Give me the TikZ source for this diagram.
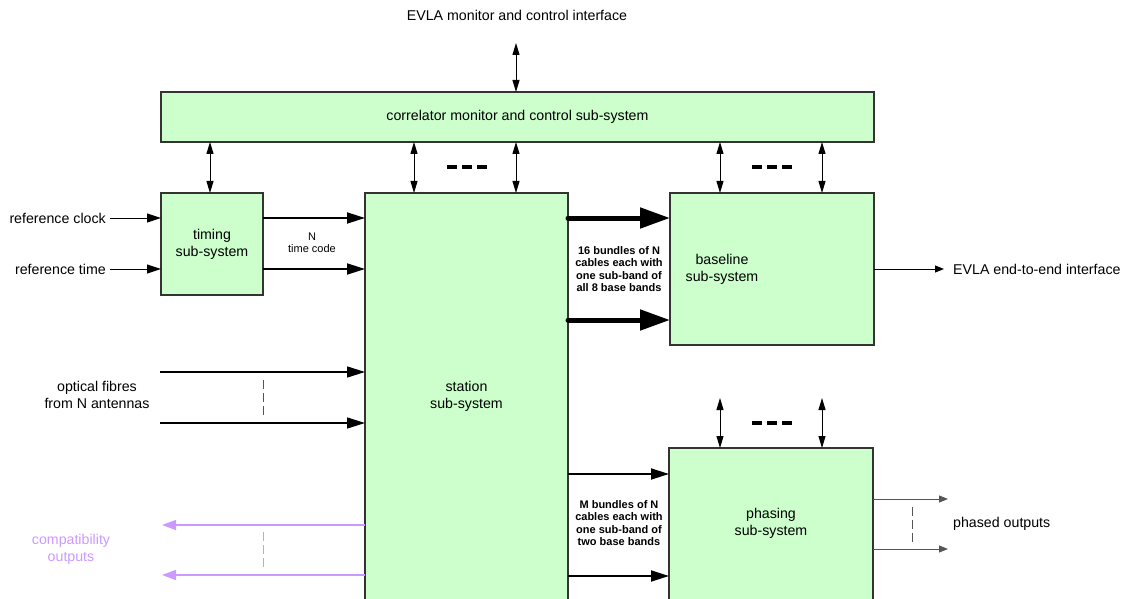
\documentclass[tikz,border=0pt]{standalone}
\usepackage{fontspec}
\setmainfont{Liberation Sans}
\usetikzlibrary{arrows.meta}
\definecolor{boxfill}{HTML}{CCFFCC}
\definecolor{boxline}{HTML}{333333}
\definecolor{compat}{HTML}{CC99FF}
\definecolor{greyline}{HTML}{555555}
\begin{document}
\begin{tikzpicture}[x=1pt,y=-1pt,
  box/.style={draw=boxline, fill=boxfill, line width=1.1pt, inner sep=0pt, outer sep=0pt},
  lbl/.style={font=\fontsize{14.2}{17}\selectfont, align=center, inner sep=0pt},
  small/.style={font=\fontsize{11}{12.5}\selectfont, align=center, inner sep=0pt},
  smallbold/.style={font=\bfseries\fontsize{11}{12.4}\selectfont, align=center, inner sep=0pt},
  dbl/.style={line width=1pt, {Triangle[length=12pt,width=7pt]}-{Triangle[length=12pt,width=7pt]}},
  inarr/.style={line width=1pt, -{Triangle[length=14pt,width=9pt]}},
  medarr/.style={line width=1.8pt, -{Triangle[length=18pt,width=11pt]}},
  bigarr/.style={line width=5pt, line cap=round, -{Triangle[length=30pt,width=20pt]}},
  comparr/.style={draw=compat, line width=1.5pt, -{Triangle[length=14pt,width=10pt]}, fill=compat},
  outarr/.style={line width=1pt, -{Triangle[length=9pt,width=7pt]}},
  dashbar/.style={line width=3.2pt, dash pattern=on 10pt off 5pt},
  vdash/.style={line width=1pt, dash pattern=on 9pt off 4pt}
]
\useasboundingbox (0,0) rectangle (1125,599);

% boxes
\node[box, lbl, minimum width=713pt, minimum height=50pt] (corr) at (517.5,117) {correlator monitor and control sub-system};
\node[box, lbl, minimum width=102pt, minimum height=102pt] (timing) at (212,244) {timing\\sub-system};
\node[box, minimum width=203pt, minimum height=450pt, anchor=north] (station) at (466.5,193) {};
\node[lbl] (stationtxt) at (466.5,396) {station\\sub-system};
\node[box, minimum width=204pt, minimum height=152pt] (base) at (772,269) {};
\node[lbl] (basetxt) at (722,269) {baseline\\sub-system};
\node[box, minimum width=204pt, minimum height=200pt, anchor=north] (phas) at (771,448) {};
\node[lbl] (phastxt) at (771,523) {phasing\\sub-system};

% top interface
\node[lbl] (evla) at (517,15) {EVLA monitor and control interface};
\coordinate (mctop) at (516,43);
\draw[dbl] (mctop) -- (mctop |- corr.north);

% monitor and control links
\coordinate (t1) at ([xshift=-2pt]timing.north);
\draw[dbl] (t1 |- corr.south) -- (t1);
\coordinate (s1) at ([xshift=49pt]station.north west);
\coordinate (s2) at ([xshift=-52pt]station.north east);
\draw[dbl] (s1 |- corr.south) -- (s1);
\draw[dbl] (s2 |- corr.south) -- (s2);
\coordinate (b1) at ([xshift=50pt]base.north west);
\coordinate (b2) at ([xshift=-52pt]base.north east);
\draw[dbl] (b1 |- corr.south) -- (b1);
\draw[dbl] (b2 |- corr.south) -- (b2);
\coordinate (ptop) at (0,398);
\coordinate (p1) at ([xshift=51pt]phas.north west);
\coordinate (p2) at ([xshift=-51pt]phas.north east);
\draw[dbl] (p1 |- ptop) -- (p1);
\draw[dbl] (p2 |- ptop) -- (p2);
\draw[dashbar] (447,167) -- (487,167);
\draw[dashbar] (752,167) -- (792,167);
\draw[dashbar] (752,423) -- (792,423);

% timing inputs and outputs
\node[lbl, anchor=east] (refclk) at (106,218) {reference clock};
\node[lbl, anchor=east] (reftime) at (106,269) {reference time};
\draw[inarr, shorten <=4pt] (refclk.east) -- (refclk.east -| timing.west);
\draw[inarr, shorten <=4pt] (reftime.east) -- (reftime.east -| timing.west);
\coordinate (y218) at (0,218);
\coordinate (y269) at (0,269);
\draw[medarr] (timing.east |- y218) -- (station.west |- y218);
\draw[medarr] (timing.east |- y269) -- (station.west |- y269);
\node[small] (tc) at (312,243) {N\\time code};

% station -> baseline
\coordinate (y320) at (0,320);
\draw[bigarr] (station.east |- y218) -- (base.west |- y218);
\draw[bigarr] (station.east |- y320) -- (base.west |- y320);
\node[smallbold] (bl16) at (619,269) {16 bundles of N\\cables each with\\one sub-band of\\all 8 base bands};

% optical fibres
\node[lbl] (fibres) at (97,395) {optical fibres\\from N antennas};
\coordinate (f1) at (160,372);
\coordinate (f2) at (160,423);
\draw[medarr, line width=1.5pt] (f1) -- (f1 -| station.west);
\draw[medarr, line width=1.5pt] (f2) -- (f2 -| station.west);
\draw[vdash, draw=greyline] (263,380) -- (263,415);

% compatibility outputs
\node[lbl, text=compat] (compattxt) at (71,549) {compatibility\\outputs};
\coordinate (c1) at (162,525);
\coordinate (c2) at (162,575);
\draw[comparr] (c1 -| station.west) -- (c1);
\draw[comparr] (c2 -| station.west) -- (c2);
\draw[vdash, draw=compat] (263,532) -- (263,568);

% station -> phasing
\coordinate (y474) at (0,474);
\coordinate (y576) at (0,576);
\draw[medarr] (station.east |- y474) -- (phas.west |- y474);
\draw[medarr] (station.east |- y576) -- (phas.west |- y576);
\node[smallbold] (blm) at (619,523) {M bundles of N\\cables each with\\one sub-band of\\two base bands};

% baseline output
\node[lbl, anchor=west] (e2e) at (953,269) {EVLA end-to-end interface};
\draw[outarr] (base.east |- e2e.west) -- ([xshift=-9pt]e2e.west);

% phased outputs
\node[lbl, anchor=west] (phout) at (953,524) {phased outputs};
\coordinate (po1) at (948,499);
\coordinate (po2) at (948,549);
\draw[outarr, draw=greyline] (po1 -| phas.east) -- (po1);
\draw[outarr, draw=greyline] (po2 -| phas.east) -- (po2);
\draw[vdash, draw=greyline] (912,507) -- (912,542);
\end{tikzpicture}
\end{document}
